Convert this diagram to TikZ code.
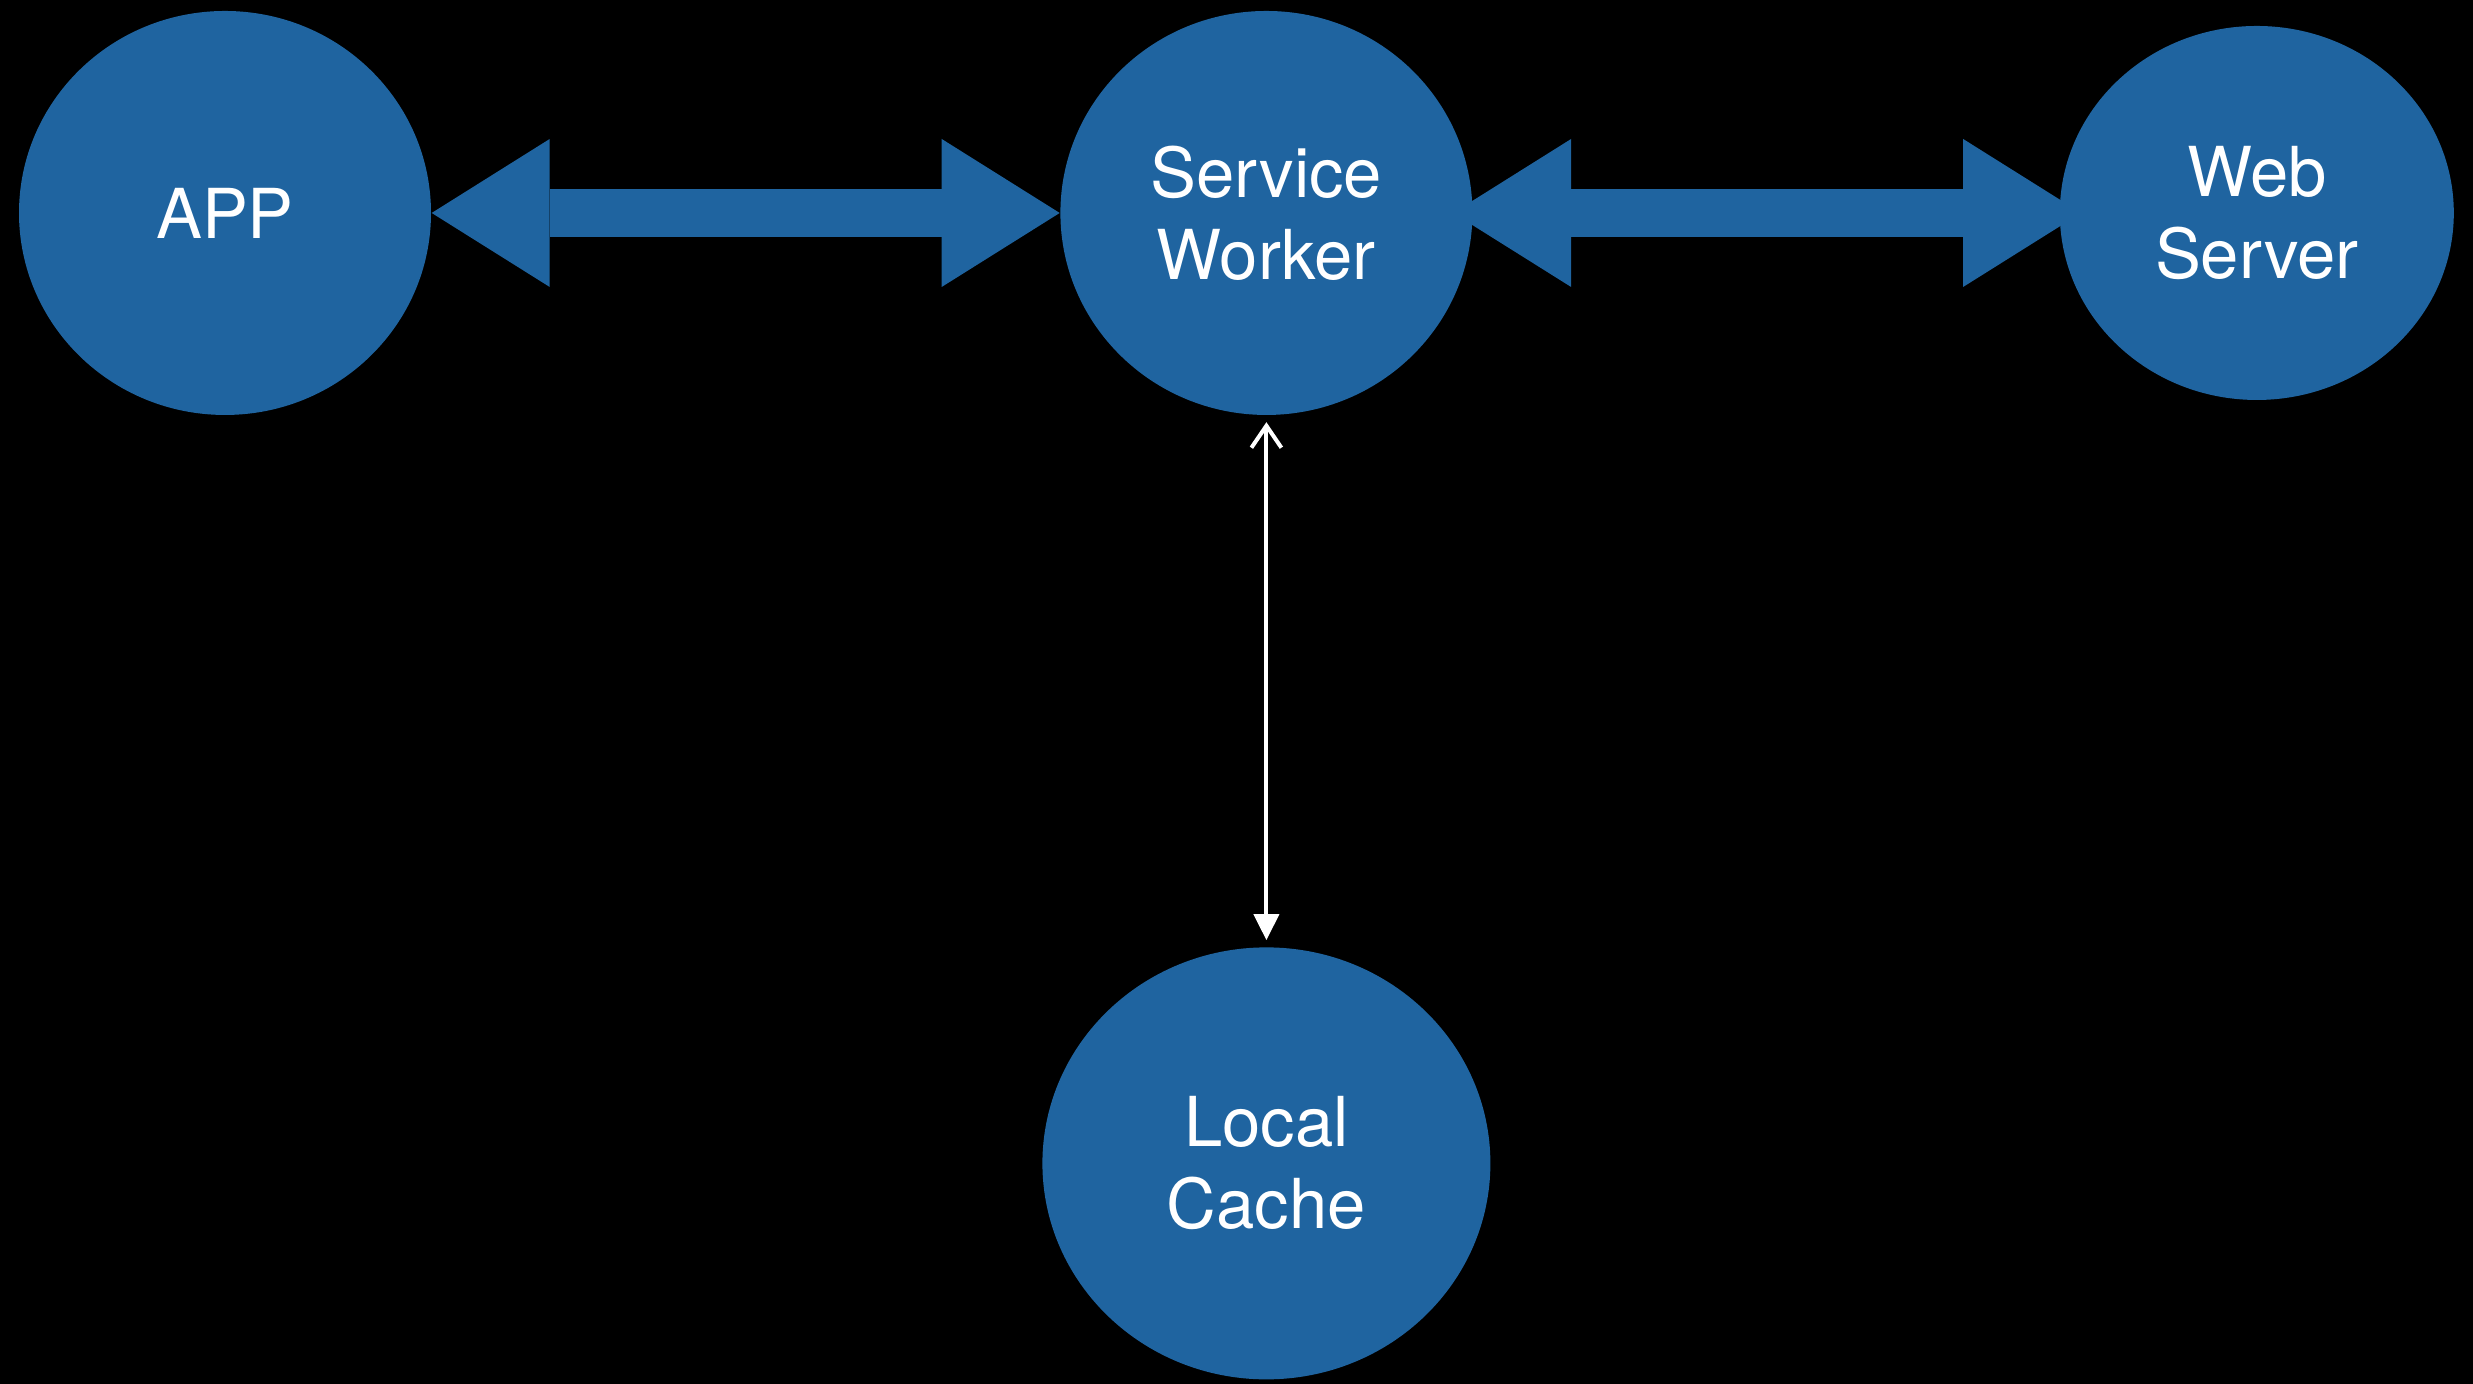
\documentclass[tikz,border=0pt]{standalone}
\usepackage{fontspec}
\setmainfont{TeX Gyre Heros}
\usetikzlibrary{positioning}
\usetikzlibrary{arrows.meta}
\usetikzlibrary{shapes.geometric}
\definecolor{swblue}{RGB}{31,100,160}
\tikzset{
  bubble/.style={ellipse, fill=swblue, text=white, inner sep=0pt, align=center,
    font=\fontsize{19.6}{23.3}\selectfont},
  fatarrow/.style={draw=swblue, line width=0.48cm,
    {Triangle[length=1.18cm,width=1.48cm,line width=0pt]}-{Triangle[length=1.18cm,width=1.48cm,line width=0pt]}},
  thinarrow/.style={draw=white, line width=0.04cm,
    {Straight Barb[length=0.22cm,width=0.30cm]}-{Triangle[length=0.26cm,width=0.25cm]}}
}

\begin{document}
\begin{tikzpicture}
            \fill[black] (0,0) rectangle (24.73,13.84);
            \useasboundingbox (0,0) rectangle (24.73,13.84);

            \node(app) [bubble, minimum width=4.12cm, minimum height=4.04cm] at (2.25,11.71) {APP};
            \node(sw) [bubble, minimum width=4.12cm, minimum height=4.04cm, right=6.28cm of app] {Service\\Worker};
            \node(ws) [bubble, minimum width=3.94cm, minimum height=3.74cm, right=5.86cm of sw] {Web\\Server};
            \node(lc) [bubble, minimum width=4.48cm, minimum height=4.32cm, below=5.31cm of sw] {Local\\Cache};

            \draw[fatarrow] (app) -- (sw);
            \draw[fatarrow, shorten <=-0.2cm, shorten >=-0.22cm] (sw) -- (ws);
            \draw[thinarrow, shorten <=0.065cm, shorten >=0.065cm] (sw) -- (lc);
        \end{tikzpicture}
\end{document}
